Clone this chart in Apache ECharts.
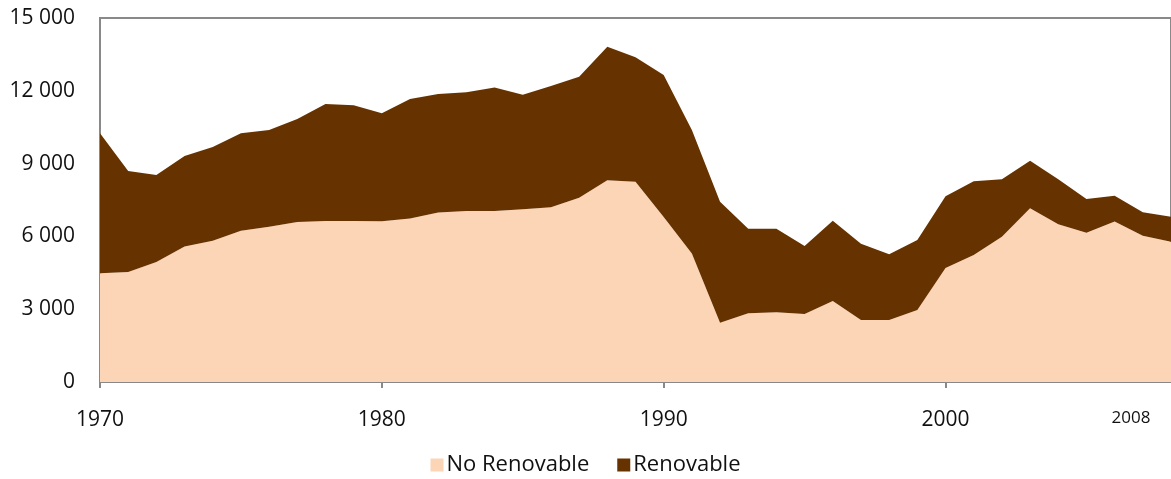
<!DOCTYPE html>
<html>
<head>
<meta charset="utf-8">
<script src="https://cdn.jsdelivr.net/npm/echarts@6/dist/echarts.min.js"></script>
<style>html,body{margin:0;padding:0;background:#fff;}#c{width:1171px;height:479px;}</style>
</head>
<body>
<div id="c"></div>
<script>
const years = [];
for (let y = 1970; y <= 2008; y++) years.push(String(y));
const noRenovable = [4480,4530,4940,5580,5820,6230,6400,6590,6630,6630,6620,6740,6990,7050,7050,7120,7200,7590,8310,8250,6800,5300,2440,2830,2870,2800,3340,2550,2550,2970,4700,5230,5990,7160,6500,6150,6610,6030,5780];
const renovable = [5770,4160,3590,3730,3860,4020,3980,4250,4830,4770,4450,4920,4880,4890,5090,4720,5000,4990,5510,5130,5850,5080,4990,3490,3450,2800,3310,3150,2710,2880,2950,3040,2370,1960,1860,1390,1070,970,1030];
const labeledYears = ['1970','1980','1990','2000','2008'];
const tickYears = ['1970','1980','1990','2000'];

const chart = echarts.init(document.getElementById('c'));
const font = '"Open Sans", "Noto Sans", sans-serif';
chart.setOption({
  animation: false,
  grid: { left: 100, right: 0, top: 18, bottom: 97, show: true, borderColor: '#898989', borderWidth: 2, containLabel: false },
  legend: {
    data: ['No Renovable', 'Renovable'],
    top: 449, left: 'center',
    icon: 'rect', itemWidth: 13, itemHeight: 13, itemGap: 28,
    textStyle: { fontFamily: font, fontSize: 22, color: '#111', padding: [0,0,0,-2] }
  },
  xAxis: {
    type: 'category', data: years, boundaryGap: false,
    axisLine: { lineStyle: { color: '#898989', width: 2 } },
    axisTick: { show: true, length: 6, lineStyle: { color: '#898989', width: 2 },
      interval: (i, v) => tickYears.includes(v) },
    axisLabel: {
      interval: (i, v) => labeledYears.includes(v),
      margin: 28, fontFamily: font, fontSize: 21, color: '#111',
      formatter: v => v === '2008' ? '{s|2008}' : v,
      rich: { s: { fontFamily: font, fontSize: 17, color: '#111', padding: [0, 80, 0, 0] } }
    },
    splitLine: { show: false }
  },
  yAxis: {
    type: 'value', min: 0, max: 15000, interval: 3000,
    axisLine: { show: true, lineStyle: { color: '#898989', width: 2 } },
    axisTick: { show: false },
    splitLine: { show: false },
    axisLabel: { margin: 25, fontFamily: font, fontSize: 21, color: '#111',
      formatter: v => String(v).replace(/\B(?=(\d{3})+(?!\d))/g, ' ') }
  },
  series: [
    { name: 'No Renovable', type: 'line', stack: 'total', data: noRenovable, symbol: 'none',
      lineStyle: { width: 0 }, itemStyle: { color: '#FBD5B5' }, areaStyle: { color: '#FBD5B5', opacity: 1 } },
    { name: 'Renovable', type: 'line', stack: 'total', data: renovable, symbol: 'none',
      lineStyle: { width: 0 }, itemStyle: { color: '#663300' }, areaStyle: { color: '#663300', opacity: 1 } }
  ]
});
</script>
</body>
</html>
